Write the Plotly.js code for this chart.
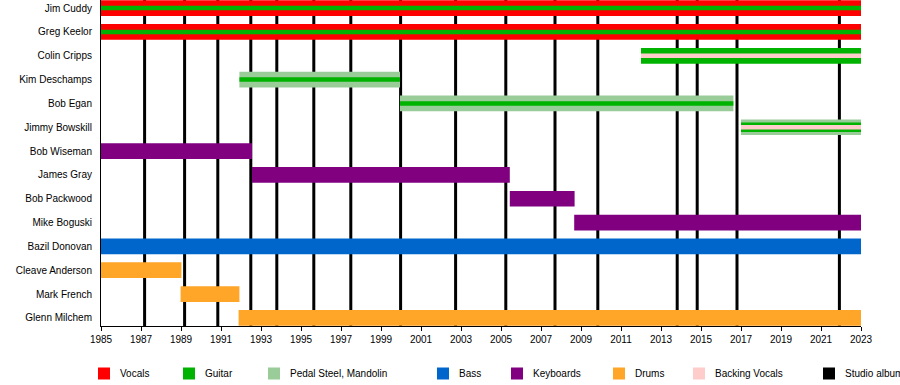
<!DOCTYPE html>
<html>
<head>
<meta charset="utf-8">
<script src="https://cdn.plot.ly/plotly-3.0.1.min.js"></script>
<style>
  html, body { margin: 0; padding: 0; background: #fff; }
  #chart { width: 900px; height: 385px; }
</style>
</head>
<body>
<div id="chart"></div>
<script>
// ---------- DATA ----------
const members = ['Jim Cuddy', 'Greg Keelor', 'Colin Cripps', 'Kim Deschamps', 'Bob Egan',
  'Jimmy Bowskill', 'Bob Wiseman', 'James Gray', 'Bob Packwood', 'Mike Boguski',
  'Bazil Donovan', 'Cleave Anderson', 'Mark French', 'Glenn Milchem'];

// Main (full-height) bars: primary role
const mainMember = ['Jim Cuddy', 'Greg Keelor', 'Colin Cripps', 'Kim Deschamps', 'Bob Egan',
  'Jimmy Bowskill', 'Bob Wiseman', 'James Gray', 'Bob Packwood', 'Mike Boguski',
  'Bazil Donovan', 'Cleave Anderson', 'Mark French', 'Glenn Milchem'];
const mainStart = [1985, 1985, 2012.0, 1991.92, 1999.95, 2017.0, 1985, 1992.55, 2005.44, 2008.66, 1985, 1985, 1988.98, 1991.88];
const mainEnd   = [2023, 2023, 2023, 1999.95, 2016.62, 2023, 1992.55, 2005.44, 2008.68, 2023, 2023, 1989.02, 1991.92, 2023];
const mainRole  = ['Vocals', 'Vocals', 'Guitar', 'Pedal Steel, Mandolin', 'Pedal Steel, Mandolin',
  'Pedal Steel, Mandolin', 'Keyboards', 'Keyboards', 'Keyboards', 'Keyboards', 'Bass', 'Drums', 'Drums', 'Drums'];

// Medium-width overlay bars: secondary role
const midMember = ['Jimmy Bowskill'];
const midStart  = [2017.0];
const midEnd    = [2023];
const midRole   = ['Guitar'];

// Thin stripes: secondary / tertiary role
const stripeMember = ['Jim Cuddy', 'Greg Keelor', 'Colin Cripps', 'Kim Deschamps', 'Bob Egan', 'Jimmy Bowskill'];
const stripeStart  = [1985, 1985, 2012.0, 1991.92, 1999.95, 2017.0];
const stripeEnd    = [2023, 2023, 2023, 1999.95, 2016.62, 2023];
const stripeRole   = ['Guitar', 'Guitar', 'Backing Vocals', 'Guitar', 'Guitar', 'Backing Vocals'];

// Studio album release dates
const albumYears = [1987.18, 1989.18, 1990.84, 1992.49, 1993.79, 1995.64, 1997.49, 1999.98,
  2002.73, 2005.24, 2007.70, 2009.84, 2013.81, 2014.81, 2016.80, 2021.92];

// Legend
const legendLabels = ['Vocals', 'Guitar', 'Pedal Steel, Mandolin', 'Bass', 'Keyboards', 'Drums', 'Backing Vocals', 'Studio album'];

// ---------- STYLE ----------
const roleColors = {
  'Vocals': '#ff0000',
  'Guitar': '#00b300',
  'Pedal Steel, Mandolin': '#99cc99',
  'Bass': '#0066cc',
  'Keyboards': '#800080',
  'Drums': '#ffa528',
  'Backing Vocals': '#ffcccc',
  'Studio album': '#000000'
};
const legendSwatchPx = [98, 183, 268, 437, 511, 613, 693, 823]; // left edge (px) of each legend swatch
const FONT = 'Liberation Sans, Arial, Helvetica, sans-serif';
const W = 900, H = 385;
const M = { l: 101, r: 39, t: 0, b: 59 };
const plotW = W - M.l - M.r, plotH = H - M.t - M.b;
const px = x => (x - M.l) / plotW;
const py = y => (M.t + plotH - y) / plotH;

function barTrace(names, starts, ends, roles, width) {
  return {
    type: 'bar', orientation: 'h',
    y: names,
    base: starts,
    x: ends.map((e, i) => e - starts[i]),
    width: width,
    marker: { color: roles.map(r => roleColors[r]), line: { width: 0 } },
    showlegend: false,
    hoverinfo: 'y'
  };
}

const traces = [
  barTrace(mainMember, mainStart, mainEnd, mainRole, 0.66),
  barTrace(midMember, midStart, midEnd, midRole, 0.40),
  barTrace(stripeMember, stripeStart, stripeEnd, stripeRole, 0.19)
];

const shapes = albumYears.map(yr => ({
  type: 'line', xref: 'x', yref: 'paper', x0: yr, x1: yr, y0: 0, y1: 1,
  line: { color: '#000', width: 3 }, layer: 'below'
}));

const annotations = [];
legendLabels.forEach((lab, i) => {
  const x = legendSwatchPx[i];
  shapes.push({
    type: 'rect', xref: 'paper', yref: 'paper',
    x0: px(x), x1: px(x + 12), y0: py(379.5), y1: py(367.5),
    fillcolor: roleColors[lab], line: { width: 0 }
  });
  annotations.push({
    xref: 'paper', yref: 'paper', x: px(x + 20), y: py(373.5),
    xanchor: 'left', yanchor: 'middle', showarrow: false,
    text: lab, font: { family: FONT, size: 10, color: '#000' }
  });
});

const layout = {
  width: W, height: H,
  margin: M,
  paper_bgcolor: '#fff', plot_bgcolor: '#fff',
  barmode: 'overlay',
  showlegend: false,
  font: { family: FONT, size: 10, color: '#000' },
  xaxis: {
    range: [1985, 2023],
    tick0: 1985, dtick: 2,
    ticks: 'outside', ticklen: 4, tickwidth: 1, tickcolor: '#000',
    showline: true, linecolor: '#000', linewidth: 1,
    showgrid: false, zeroline: false,
    tickfont: { family: FONT, size: 10, color: '#000' },
    fixedrange: true
  },
  yaxis: {
    type: 'category',
    categoryorder: 'array', categoryarray: members,
    range: [members.length - 1 + 0.34, -0.34],
    showline: true, linecolor: '#000', linewidth: 1,
    showgrid: false, zeroline: false,
    ticks: '', ticklabelstandoff: 6,
    tickfont: { family: FONT, size: 10, color: '#000' },
    fixedrange: true
  },
  shapes: shapes,
  annotations: annotations
};

Plotly.newPlot('chart', traces, layout, { displayModeBar: false, staticPlot: true });
</script>
</body>
</html>
